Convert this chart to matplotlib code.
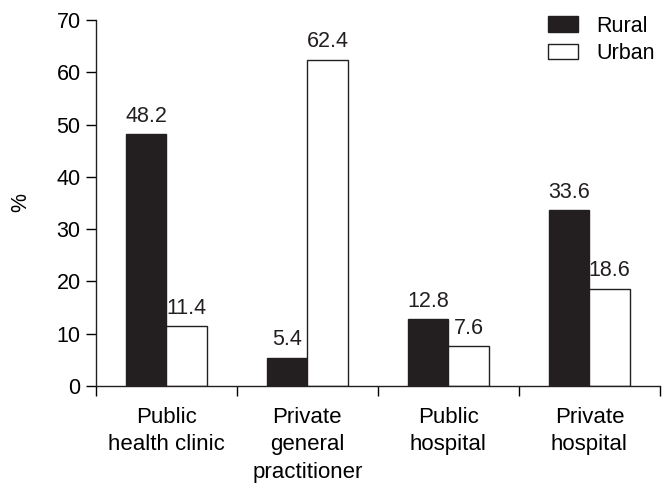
import matplotlib
matplotlib.use("Agg")
import matplotlib.pyplot as plt
import numpy as np
from matplotlib.patches import Patch

categories = ["Public\nhealth clinic", "Private\ngeneral\npractitioner",
              "Public\nhospital", "Private\nhospital"]
rural = [48.2, 5.4, 12.8, 33.6]
urban = [11.4, 62.4, 7.6, 18.6]

plt.rcParams["font.family"] = ["Liberation Sans", "DejaVu Sans"]
plt.rcParams["font.size"] = 15.5

fig = plt.figure(figsize=(6.7, 4.84), dpi=100)
ax = fig.add_axes([0.143, 0.2025, 0.842, 0.7562])

x = np.arange(len(categories))
w = 0.285
b1 = ax.bar(x - w/2, rural, w, color="#231f20", edgecolor="#231f20", lw=1)
b2 = ax.bar(x + w/2, urban, w, color="white", edgecolor="#231f20", lw=1)
for bars, vals in ((b1, rural), (b2, urban)):
    for r, v in zip(bars, vals):
        ax.text(r.get_x() + r.get_width()/2, v + 1.4, f"{v:.1f}",
                ha="center", va="bottom", color="#231f20")

ax.set_xlim(-0.5, len(categories) - 0.5)
ax.set_ylim(0, 70)
ax.set_yticks(range(0, 71, 10))
ax.set_xticks(x)
ax.set_xticklabels(categories, linespacing=1.4, fontsize=16)
ax.tick_params(axis="x", which="major", length=0, pad=15)
ax.set_xticks(np.arange(-0.5, len(categories)), minor=True)
ax.tick_params(axis="x", which="minor", length=7, width=1, direction="out")
ax.tick_params(axis="y", length=7, width=1, direction="out", pad=4)
for s in ("top", "right"):
    ax.spines[s].set_visible(False)
for s in ("left", "bottom"):
    ax.spines[s].set_linewidth(1)
    ax.spines[s].set_color("#231f20")
ax.set_ylabel("%", labelpad=18)

leg = [Patch(facecolor="#231f20", edgecolor="#231f20", label="Rural"),
       Patch(facecolor="white", edgecolor="#231f20", label="Urban")]
ax.legend(handles=leg, loc="upper right", bbox_to_anchor=(1.025, 1.065),
          frameon=False, handlelength=1.4, handleheight=0.75,
          labelspacing=0.3, handletextpad=0.85)

plt.savefig("out.png", dpi=100)
